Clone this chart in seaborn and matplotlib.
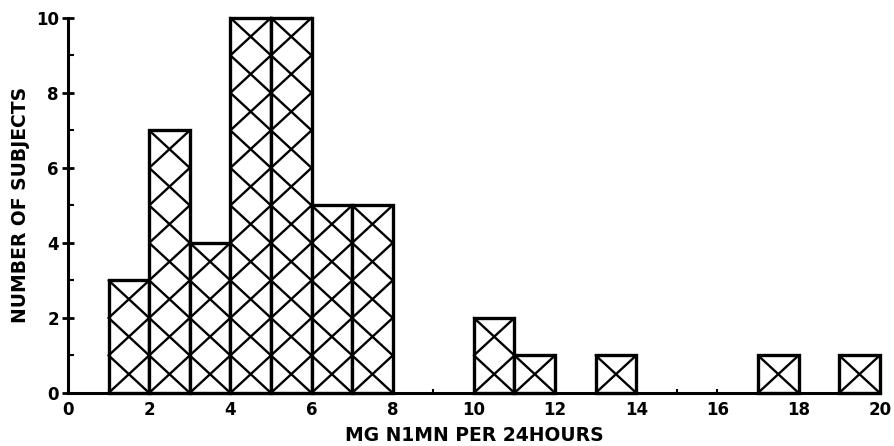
import numpy as np
import matplotlib
matplotlib.use("Agg")
import matplotlib.pyplot as plt
import seaborn as sns

# Histogram of daily N1MN excretion: left edge of each 1-mg bin and its count
bin_left = [1, 2, 3, 4, 5, 6, 7, 10, 11, 13, 17, 19]
counts = [3, 7, 4, 10, 10, 5, 5, 2, 1, 1, 1, 1]
bin_edges = list(range(0, 21))
x_ticks = [0, 2, 4, 6, 8, 10, 12, 14, 16, 18, 20]
y_ticks = [0, 2, 4, 6, 8, 10]

sns.set_style("ticks")
plt.rcParams["font.family"] = ["DejaVu Sans"]
plt.rcParams["font.weight"] = "bold"
plt.rcParams["text.color"] = "black"
plt.rcParams["axes.labelcolor"] = "black"
plt.rcParams["xtick.color"] = "black"
plt.rcParams["ytick.color"] = "black"

fig = plt.figure(figsize=(8.95, 4.46), dpi=100)
ax = fig.add_axes([0.076, 0.119, 0.907, 0.841])

sns.histplot(x=bin_left, weights=counts, bins=bin_edges, stat="count",
             fill=True, color="white", edgecolor="black", linewidth=2.4,
             alpha=1, ax=ax)

# Cross-hatch: one X drawn across every unit cell of each bar
for p in ax.patches:
    h = int(round(p.get_height()))
    p.set_clip_on(False)
    if h == 0:
        p.set_visible(False)
        continue
    x0, w = p.get_x(), p.get_width()
    for k in range(h):
        ax.plot([x0, x0 + w], [k, k + 1], color="black", lw=1.7,
                solid_capstyle="round", clip_on=False, zorder=3)
        ax.plot([x0, x0 + w], [k + 1, k], color="black", lw=1.7,
                solid_capstyle="round", clip_on=False, zorder=3)

ax.set_xlim(0, 20)
ax.set_ylim(0, 10)
ax.set_xticks(x_ticks)
ax.set_xticks(range(0, 21), minor=True)
ax.set_yticks(y_ticks)
ax.set_yticks(range(0, 11), minor=True)
ax.set_xticklabels([str(t) for t in x_ticks], fontsize=12, fontweight="bold")
ax.set_yticklabels([str(t) for t in y_ticks], fontsize=12, fontweight="bold")

ax.tick_params(axis="y", which="major", direction="inout", length=9, width=2, pad=2)
ax.tick_params(axis="y", which="minor", direction="in", length=4, width=1.5)
ax.tick_params(axis="x", which="major", direction="in", length=3, width=1.5, pad=6)
ax.tick_params(axis="x", which="minor", direction="in", length=3, width=1.5)

for side in ("top", "right"):
    ax.spines[side].set_visible(False)
for side in ("left", "bottom"):
    ax.spines[side].set_linewidth(2.2)
    ax.spines[side].set_color("black")

ax.set_xlabel("MG N1MN PER 24HOURS", fontsize=13.5, fontweight="bold", labelpad=5)
ax.set_ylabel("NUMBER OF SUBJECTS", fontsize=13.5, fontweight="bold", labelpad=4)

fig.savefig("out.png", dpi=100)
